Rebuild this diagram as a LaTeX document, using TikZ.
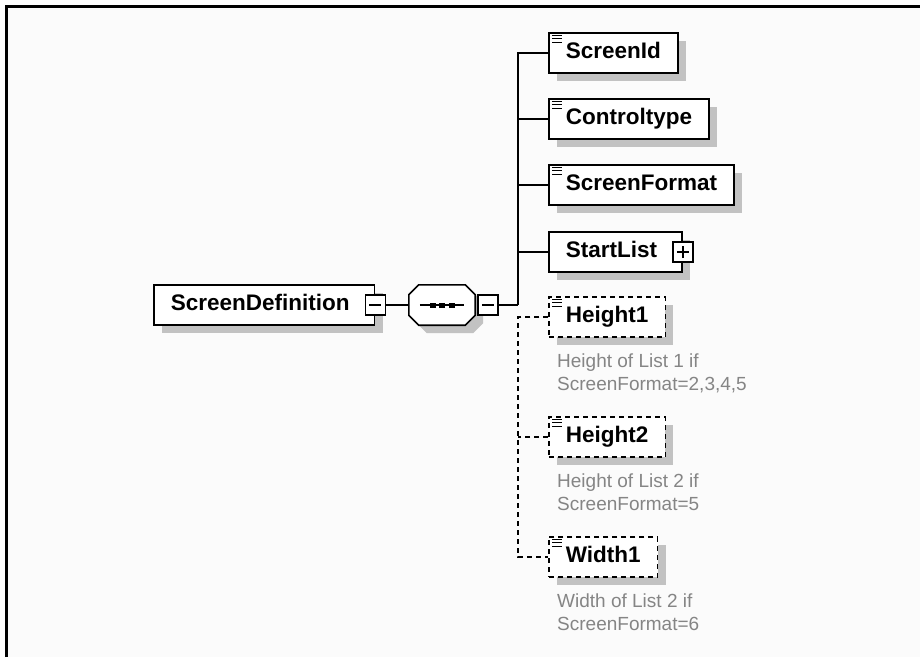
\documentclass[tikz,border=0pt]{standalone}
\usepackage{fontspec}
\setmainfont{Liberation Sans}
\usetikzlibrary{positioning,shadows}
\definecolor{shade}{gray}{0.76}
\definecolor{notegray}{gray}{0.52}
\definecolor{paper}{gray}{0.985}
\newcommand{\listicon}[1]{%
	\foreach \k in {0,1,2}
		\draw[line width=1.3pt] ([shift={(4pt,-3pt-\k*3.5pt)}]#1.north west) -- ++(10pt,0pt);}
\tikzset{
	link/.style = {line width=1.6pt},
	optlink/.style = {link, dash pattern=on 5pt off 4pt},
	boxshadow/.style = {general shadow={fill=shade, shadow xshift=8pt, shadow yshift=-8pt}},
	elem/.style = {draw, link, fill=white, boxshadow, minimum height=40pt, inner sep=0pt,
		text height=16pt, text depth=4.5pt, font=\fontsize{22.5}{24}\selectfont\bfseries,
		execute at begin node={\hspace*{17pt}}, execute at end node={\hspace*{17pt}}},
	optelem/.style = {elem, dash pattern=on 5pt off 4pt},
	wide/.style = {execute at end node={\hspace*{8pt}}},
	note/.style = {inner sep=0pt, align=left, text=notegray, font=\fontsize{19}{23}\selectfont},
	pmbox/.style = {draw, line width=1.4pt, fill=white, minimum size=20pt, inner sep=0pt},
	minus/.style = {pmbox, path picture={\draw[line width=1.4pt]
		([xshift=-6pt]path picture bounding box.center) -- ([xshift=6pt]path picture bounding box.center);}},
	plus/.style = {pmbox, path picture={\draw[line width=1.4pt]
		([xshift=-6pt]path picture bounding box.center) -- ([xshift=6pt]path picture bounding box.center)
		([yshift=-6pt]path picture bounding box.center) -- ([yshift=6pt]path picture bounding box.center);}},
	seqbox/.style = {minimum width=66pt, minimum height=40pt, inner sep=0pt}
}

\begin{document}
\begin{tikzpicture}[x=1pt, y=-1pt]
	\useasboundingbox (0,0) rectangle (920,657);
	\fill[white] (0,0) rectangle (920,657);
	\fill[paper] (6,6) rectangle (920,657);
	\draw[line width=3pt] (6,657) -- (6,6) -- (920,6);

	% root and sequence
	\node[elem, wide, anchor=west] (sd) at (153,305) {ScreenDefinition};
	\node[minus] (sdm) at (sd.east) {};
	\node[seqbox] (seq) at (442,305) {};
	\draw[link, fill=white, boxshadow]
			([xshift=10pt]seq.north west) -- ([xshift=-10pt]seq.north east)
		--	([yshift=-10pt]seq.north east) -- ([yshift=10pt]seq.south east)
		--	([xshift=-10pt]seq.south east) -- ([xshift=10pt]seq.south west)
		--	([yshift=10pt]seq.south west) -- ([yshift=-10pt]seq.north west) -- cycle;
	\draw[link] ([xshift=11pt]seq.west) -- ([xshift=-11pt]seq.east);
	\foreach \d in {-9.5,0,9.5}
		\fill ([shift={(\d pt-3pt,-2.5pt)}]seq.center) rectangle ++(6pt,5pt);
	\node[minus, right=2pt of seq] (seqm) {};
	\draw[link] (sdm) -- (seq);
	\coordinate (fork) at (518,305);
	\draw[link] (seqm) -- (fork);

	% children
	\foreach \name/\txt/\y in {sid/ScreenId/53, ctl/Controltype/119, sfm/ScreenFormat/185} {
		\node[elem, anchor=west] (\name) at (548,\y) {\txt};
		\listicon{\name}
		\draw[link] (fork) |- (\name.west);
	}
	\node[elem, wide, anchor=west] (slist) at (548,252) {StartList};
	\node[plus] (slistp) at (slist.east) {};
	\draw[link] (fork) |- (slist.west);

	\node[optelem, anchor=west] (h1) at (548,317) {Height1};
	\node[optelem, anchor=west] (h2) at (548,437) {Height2};
	\node[optelem, anchor=west] (w1) at (548,557) {Width1};
	\foreach \name in {h1,h2,w1}
		\listicon{\name}
	\draw[optlink] (h1.west) -| (w1.west -| fork) -- (w1.west);
	\draw[optlink] (h2.west) -- (h2.west -| fork);

	\node[note, below right=16pt and 9pt of h1.south west] (n1) {Height of List 1 if\\ScreenFormat=2,3,4,5};
	\node[note, below right=16pt and 9pt of h2.south west] (n2) {Height of List 2 if\\ScreenFormat=5};
	\node[note, below right=16pt and 9pt of w1.south west] (n3) {Width of List 2 if\\ScreenFormat=6};
\end{tikzpicture}
\end{document}
